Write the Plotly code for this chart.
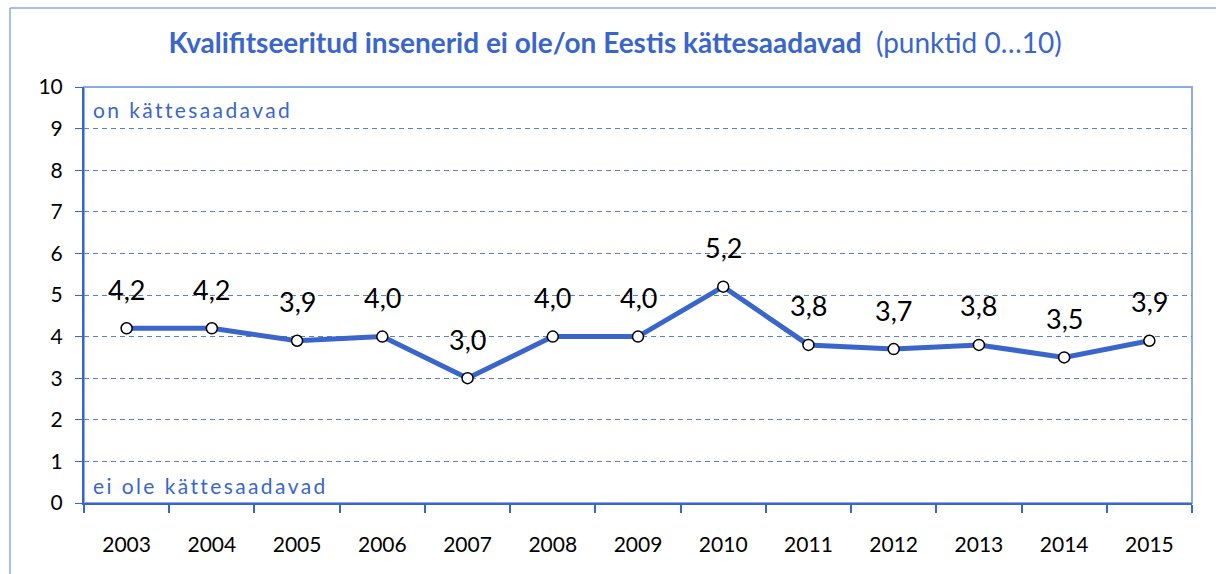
import plotly.graph_objects as go

# Survey scores by year (0 = not available, 10 = available)
years = ["2003", "2004", "2005", "2006", "2007", "2008", "2009",
         "2010", "2011", "2012", "2013", "2014", "2015"]
scores = [4.2, 4.2, 3.9, 4.0, 3.0, 4.0, 4.0, 5.2, 3.8, 3.7, 3.8, 3.5, 3.9]
y_ticks = list(range(0, 11))

BLUE = "#3A66CC"
LIGHT_BLUE = "#8EA9E8"
FONT = "Lato"

W, H = 1216, 574
L, R, T, B = 84, 24, 87, 71
pw, ph = W - L - R, H - T - B

fig = go.Figure()

fig.add_trace(go.Scatter(
    x=years, y=scores,
    mode="lines+markers",
    line=dict(color=BLUE, width=5),
    marker=dict(size=11, color="white", line=dict(color="black", width=1.5)),
    hoverinfo="x+y",
    showlegend=False,
))

# value labels above each point, decimal comma (x given as category index)
for i, v in enumerate(scores):
    fig.add_annotation(
        x=i, y=v, text=f"{v:.1f}".replace(".", ","),
        showarrow=False, yshift=39,
        font=dict(family=FONT, size=27, color="black"),
    )

# scale end captions inside the plot
fig.add_annotation(
    xref="paper", yref="paper", x=7 / pw, y=1 - 22 / ph,
    xanchor="left", yanchor="middle", showarrow=False,
    text='<span style="letter-spacing:2.4px">on kättesaadavad</span>',
    font=dict(family=FONT, size=21, color=BLUE),
)
fig.add_annotation(
    xref="paper", yref="paper", x=7 / pw, y=18 / ph,
    xanchor="left", yanchor="middle", showarrow=False,
    text='<span style="letter-spacing:2.4px">ei ole kättesaadavad</span>',
    font=dict(family=FONT, size=21, color=BLUE),
)

# light frame around the plot area
fig.add_shape(type="rect", xref="paper", yref="paper", x0=0, x1=1, y0=0, y1=1,
              line=dict(color=LIGHT_BLUE, width=2), layer="below")
# chart frame: top and left edges
frame_x0 = (10 - L) / pw
frame_y1 = 1 + (T - 8) / ph
fig.add_shape(type="line", xref="paper", yref="paper",
              x0=frame_x0, x1=2.0, y0=frame_y1, y1=frame_y1,
              line=dict(color=LIGHT_BLUE, width=1.5), layer="below")
fig.add_shape(type="line", xref="paper", yref="paper",
              x0=frame_x0, x1=frame_x0, y0=-1.0, y1=frame_y1,
              line=dict(color=LIGHT_BLUE, width=1.5), layer="below")

fig.update_layout(
    width=W, height=H,
    margin=dict(l=L, r=R, t=T, b=B),
    paper_bgcolor="white", plot_bgcolor="white",
    title=dict(
        text="<b>Kvalifitseeritud insenerid ei ole/on Eestis kättesaadavad</b>  (punktid 0…10)",
        x=615 / W, xanchor="center", xref="container",
        y=1 - 43 / H, yanchor="middle", yref="container",
        font=dict(family=FONT, size=28, color=BLUE),
    ),
    font=dict(family=FONT, color="black"),
)

fig.update_xaxes(
    type="category", categoryorder="array", categoryarray=years,
    range=[-0.5, len(years) - 0.5],
    showline=True, linecolor=BLUE, linewidth=2,
    ticks="outside", ticklen=8, tickcolor=BLUE, tickwidth=1.5,
    tickson="boundaries",
    showgrid=False,
    tickfont=dict(family=FONT, size=21, color="black"),
    ticklabelstandoff=22,
)
fig.update_yaxes(
    range=[0, 10], tickvals=y_ticks,
    showline=True, linecolor=BLUE, linewidth=2,
    ticks="outside", ticklen=7, tickcolor=BLUE, tickwidth=1.2,
    showgrid=True, gridcolor="#5B7FD6", griddash="5px,4px", gridwidth=1,
    zeroline=False,
    tickfont=dict(family=FONT, size=21, color="black"),
    ticklabelstandoff=8,
)

fig.write_html("out.html")
